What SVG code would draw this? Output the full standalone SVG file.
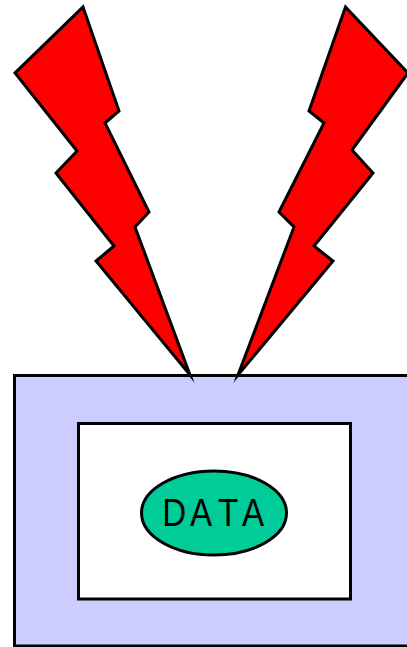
<svg xmlns="http://www.w3.org/2000/svg" width="407" height="647" viewBox="0 0 407 647">
<style>
.bolt{fill:#ff0000;stroke:#000;stroke-width:3;stroke-linejoin:miter;stroke-miterlimit:10}
.box{stroke:#000;stroke-width:3}
.label{font-family:"Liberation Sans",Arial,sans-serif;font-size:39px;fill:#000}
</style>
<rect width="407" height="647" fill="#fff"/>
<g id="outer-box"><rect class="box" x="14.5" y="375.5" width="400" height="270.5" fill="#ccccff"/></g>
<g id="inner-box"><rect class="box" x="78.5" y="423.5" width="272" height="175.5" fill="#fff"/></g>
<g id="data-node">
<ellipse cx="214" cy="513" rx="72.5" ry="42" fill="#00cc99" stroke="#000" stroke-width="3"/>
<text class="label" transform="translate(0,526) scale(.85,1)" x="191 223.5 256.5 284.7" y="0">DATA</text>
</g>
<g id="bolt-left"><polygon class="bolt" points="83,7 119,111 105,123 149,212 135,227 190,375 96,261 114,246 56,173 77,151 15,73"/></g>
<g id="bolt-right"><polygon class="bolt" points="345.5,7 408,73 352,150 373,173 314,246 333,261 238,375 294,227 279,212 324,123 309,111"/></g>
</svg>
